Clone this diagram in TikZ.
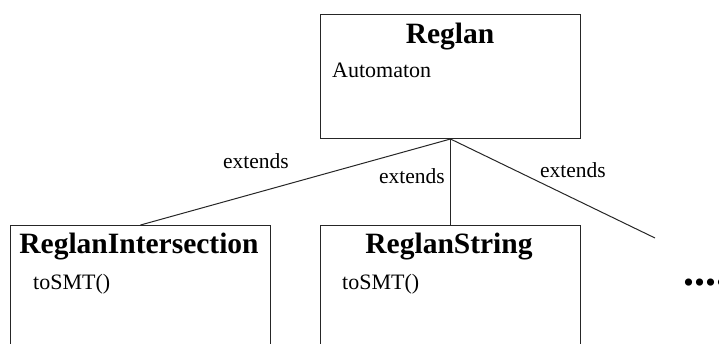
\documentclass[tikz,border=0pt]{standalone}
\usepackage{fontspec}
\setmainfont{Liberation Serif}
\begin{document}
\begin{tikzpicture}[x=1pt,y=-1pt,
  classbox/.style={draw=black!85, line width=1pt, minimum width=260pt, inner sep=0pt, anchor=north west},
  title/.style={font=\fontsize{29.5}{31}\selectfont\bfseries, anchor=base, inner sep=0pt},
  member/.style={font=\fontsize{22}{24}\selectfont, anchor=base west, inner sep=0pt},
  lbl/.style={font=\fontsize{21.5}{23}\selectfont, anchor=base, inner sep=0pt},
  link/.style={draw=black!85, line width=1pt}]
\useasboundingbox (0,0) rectangle (719,343);
\clip (0,0) rectangle (719,343);
\node[classbox, minimum height=124pt] (reglan) at (320,14) {};
\node[classbox, minimum height=140pt] (inter) at (10,225) {};
\node[classbox, minimum height=140pt] (str) at (320,225) {};
\coordinate (more) at (655,238);
\node[title] (t1) at (450,43) {Reglan};
\node[member] (m1) at (332,77) {Automaton};
\node[title] (t2) at (139,253) {ReglanIntersection};
\node[member] (m2) at (33,289) {toSMT()};
\node[title] (t3) at (449,253) {ReglanString};
\node[member] (m3) at (342,289) {toSMT()};
\node[font=\fontsize{44}{46}\selectfont\bfseries, anchor=base west, inner sep=0pt] (dots) at (683,285) {......};
\draw[link] (reglan.south) -- (inter.north);
\draw[link] (reglan.south) -- (str.north);
\draw[link] (reglan.south) -- (more);
\node[lbl] (e1) at (256,168) {extends};
\node[lbl] (e2) at (412,183) {extends};
\node[lbl] (e3) at (573,177) {extends};
\end{tikzpicture}
\end{document}
